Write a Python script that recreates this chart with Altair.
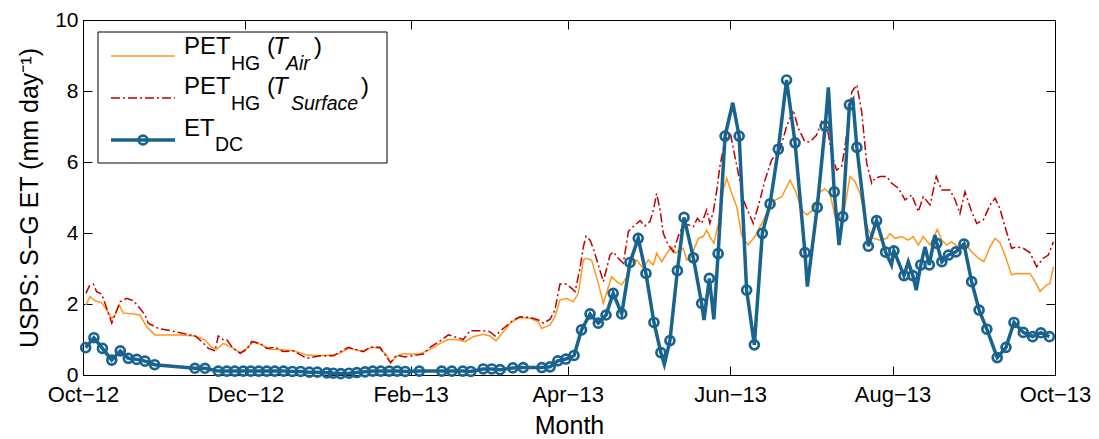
import altair as alt
import pandas as pd

START = "2012-10-01"

# ---- PET_HG (T_Air): day offset from 1 Oct 2012, value (mm/day)
air_days = [1.1, 2.6, 4.5, 7.0, 8.9, 10.8, 12.0, 13.6, 15.1, 18.9, 21.4, 23.9, 27.0, 31.4, 36.4,
            42.1, 45.8, 48.3, 50.2, 52.7, 55.8, 59.0, 61.5, 64.0, 67.1, 70.2, 74.0, 79.0, 84.0,
            89.0, 94.0, 96.5, 99.6, 102.1, 105.0, 108.4, 111.5, 114.0, 115.5, 117.2, 119.7,
            124.0, 126.5, 130.3, 134.1, 137.2, 140.3, 143.4, 146.6, 150.3, 152.8, 155.1, 157.8,
            161.0, 164.1, 167.9, 171.0, 172.2, 175.4, 177.2, 179.1, 181.6, 184.1, 186.0, 187.9,
            189.1, 191.0, 193.5, 195.4, 198.5, 200.4, 202.3, 204.2, 205.4, 207.9, 210.4, 212.3,
            214.2, 215.4, 217.3, 219.2, 221.1, 222.3, 224.2, 225.4, 226.7, 228.6, 229.8, 231.1,
            232.9, 234.2, 235.4, 236.9, 238.6, 240.4, 241.7, 243.6, 245.5, 247.3, 249.8, 252.3,
            254.9, 257.3, 259.9, 262.4, 265.5, 267.4, 269.9, 271.8, 274.2, 276.8, 278.6, 280.5,
            282.4, 284.2, 286.1, 288.0, 289.9, 291.8, 294.3, 296.8, 299.3, 301.8, 303.0, 304.9,
            307.4, 309.9, 311.8, 313.7, 315.5, 318.1, 320.8, 322.5, 324.3, 326.2, 328.7, 331.2,
            333.7, 336.2, 338.3, 340.6, 342.5, 344.3, 346.2, 348.7, 350.6, 353.1, 355.6, 357.5,
            359.4, 361.9, 363.1, 364.4]
air_vals = [1.97, 2.21, 2.09, 2.04, 1.83, 1.60, 1.69, 1.97, 1.75, 1.72, 1.69, 1.36, 1.13, 1.13, 1.13,
            1.10, 0.99, 0.78, 0.72, 0.89, 0.78, 0.63, 0.75, 0.94, 0.85, 0.72, 0.72, 0.68, 0.56,
            0.54, 0.56, 0.61, 0.75, 0.72, 0.66, 0.78, 0.75, 0.56, 0.33, 0.50, 0.59,
            0.59, 0.59, 0.72, 0.89, 1.00, 1.00, 0.94, 1.08, 1.15, 1.10, 0.96, 1.22,
            1.50, 1.62, 1.60, 1.50, 1.31, 1.41, 1.64, 2.11, 2.16, 2.06, 2.30, 3.24,
            3.29, 3.24, 2.58, 2.02, 2.77, 2.63, 2.54, 2.77, 3.15, 3.24, 3.00, 3.24,
            3.10, 3.43, 3.19, 3.43, 3.61, 3.43, 3.52, 3.57, 3.24, 3.33, 3.61, 3.85,
            3.90, 4.08, 3.90, 3.71, 4.27, 5.21, 5.54, 5.11, 4.74, 3.94, 3.66, 3.90,
            4.27, 4.65, 4.93, 5.02, 5.49, 5.21, 4.65, 4.51, 4.65, 5.16, 5.25, 5.11,
            4.46, 4.37, 4.74, 5.59, 5.45, 5.11, 4.18, 3.85, 3.80, 3.85, 3.99, 3.85,
            3.90, 3.80, 3.90, 3.66, 3.90, 3.66, 4.10, 3.80, 3.66, 3.75, 3.61, 3.71,
            3.47, 3.29, 3.19, 3.61, 3.85, 3.73, 3.38, 2.82, 2.86, 2.85, 2.86, 2.63,
            2.35, 2.54, 2.58, 3.05]

# ---- PET_HG (T_Surface)
sfc_days = [1.1, 2.4, 3.9, 5.1, 7.0, 8.9, 10.8, 12.0, 13.9, 16.4, 18.9, 21.4, 23.3, 24.5, 28.3,
            32.7, 36.4, 42.1, 44.6, 47.1, 49.6, 50.8, 52.7, 54.0, 56.4, 59.0, 61.5, 63.3, 66.5,
            69.0, 72.1, 75.2, 79.0, 84.0, 89.0, 94.0, 99.6, 102.1, 105.3, 107.8, 111.5, 114.0,
            115.5, 117.8, 120.9, 125.3, 127.8, 130.3, 134.1, 137.2, 140.3, 142.8, 145.3, 150.3,
            152.8, 154.7, 157.8, 161.6, 164.1, 167.9, 171.0, 172.9, 175.4, 177.2, 179.1, 181.6,
            183.5, 184.8, 186.6, 187.9, 188.9, 190.4, 191.6, 193.5, 195.4, 197.9, 199.1, 201.0,
            202.9, 204.8, 206.6, 209.2, 211.0, 212.9, 214.2, 215.4, 216.7, 217.9, 219.8, 221.7,
            223.5, 225.4, 227.3, 229.2, 230.7, 232.3, 234.2, 235.4, 236.7, 238.0, 239.2, 241.1,
            243.0, 244.8, 246.6, 248.0, 249.8, 251.7, 254.2, 256.1, 258.6, 261.7, 264.2, 266.7,
            268.6, 271.1, 273.0, 275.5, 277.4, 279.3, 281.1, 283.0, 284.9, 286.5, 288.7, 290.6,
            292.4, 294.3, 296.2, 297.4, 299.3, 301.8, 303.7, 306.2, 308.7, 311.2, 313.7, 315.5,
            318.1, 320.4, 322.5, 325.6, 327.5, 329.3, 331.2, 333.7, 335.6, 338.1, 340.6, 342.5,
            344.3, 346.2, 348.7, 350.6, 353.1, 355.6, 358.1, 360.6, 362.5, 364.4]
sfc_vals = [2.30, 2.51, 2.56, 2.35, 2.28, 1.88, 1.46, 1.69, 2.06, 2.16, 2.09, 1.88, 1.69, 1.46, 1.31,
            1.25, 1.19, 1.10, 0.94, 0.75, 0.68, 1.10, 0.99, 0.99, 0.75, 0.61, 0.72, 0.94, 0.89,
            0.75, 0.78, 0.66, 0.68, 0.47, 0.54, 0.54, 0.78, 0.72, 0.66, 0.78, 0.78, 0.51,
            0.35, 0.56, 0.51, 0.56, 0.59, 0.78, 0.96, 1.13, 1.06, 1.00, 1.25, 1.25,
            1.22, 1.10, 1.31, 1.55, 1.64, 1.62, 1.55, 1.46, 1.57, 1.83, 2.56, 2.56,
            2.44, 2.35, 3.00, 3.61, 3.91, 3.80, 3.57, 3.10, 2.63, 3.38, 3.47, 3.29,
            3.15, 4.04, 4.18, 4.35, 4.20, 4.32, 4.65, 5.11, 4.65, 3.99, 3.66, 3.47,
            3.90, 4.23, 4.23, 4.18, 4.41, 4.27, 4.65, 4.27, 4.60, 5.21, 5.90, 6.60,
            6.85, 6.15, 5.50, 4.93, 4.60, 4.27, 4.93, 5.49, 6.06, 6.34, 7.00, 7.46,
            6.95, 6.57, 6.57, 6.76, 7.14, 7.04, 6.24, 5.77, 5.87, 6.62, 7.98, 8.17,
            7.42, 5.96, 5.40, 5.54, 5.59, 5.59, 5.40, 5.26, 4.93, 5.07, 4.60, 5.02,
            4.79, 5.59, 5.21, 5.21, 4.93, 4.55, 5.16, 4.60, 4.27, 4.37, 4.79, 4.98,
            4.69, 4.18, 3.57, 3.61, 3.57, 3.45, 3.05, 3.29, 3.38, 3.75]

# ---- ET_DC (marked = 1 where a circle marker is drawn)
et_days = [1.0, 4.1, 7.3, 10.8, 14.0, 17.0, 20.2, 23.3, 26.9, 42.0, 45.8, 50.8, 54.0, 57.0, 60.2,
           63.0, 66.0, 69.0, 72.0, 75.3, 78.6, 81.7, 85.0, 88.0, 91.6, 94.0, 96.8, 99.9, 102.8,
           105.9, 108.8, 111.8, 115.0, 118.0, 121.0, 126.3, 134.7, 138.5, 142.6, 145.6, 150.3,
           153.5, 156.6, 161.4, 165.3, 172.3, 175.4, 178.3, 181.3, 184.4, 187.2, 190.4, 193.5,
           196.4, 199.1, 202.3, 205.4, 208.5, 211.4, 214.4, 217.0, 218.3, 220.4, 223.2, 225.7,
           229.2, 232.3, 233.2, 235.2, 236.9, 238.5, 241.1, 244.0, 246.4, 249.2, 252.1, 255.1,
           258.0, 261.1, 264.2, 267.4, 271.1, 272.0, 275.7, 278.7, 279.9, 282.1, 283.9, 285.3,
           287.8, 289.1, 290.6, 294.9, 298.0, 301.4, 303.6, 304.5, 308.3, 309.9, 311.6, 312.9,
           314.6, 316.2, 317.8, 319.9, 320.6, 322.5, 325.0, 327.8, 330.8, 333.7, 336.5, 339.4,
           343.3, 346.6, 349.6, 353.1, 356.6, 359.7, 362.9]
et_vals = [0.77, 1.05, 0.75, 0.42, 0.68, 0.47, 0.44, 0.39, 0.29, 0.19, 0.19, 0.11, 0.11, 0.11, 0.11,
           0.11, 0.11, 0.11, 0.11, 0.11, 0.10, 0.10, 0.08, 0.08, 0.06, 0.05, 0.04, 0.05, 0.07,
           0.09, 0.11, 0.11, 0.11, 0.11, 0.10, 0.11, 0.11, 0.11, 0.11, 0.10, 0.17,
           0.17, 0.15, 0.20, 0.21, 0.21, 0.23, 0.40, 0.45, 0.55, 1.27, 1.72, 1.46,
           1.69, 2.30, 1.72, 3.17, 3.85, 2.86, 1.48, 0.63, 0.30, 0.97, 2.94, 4.44,
           3.30, 2.02, 1.55, 2.72, 1.57, 3.42, 6.73, 7.67, 6.73, 2.39, 0.85, 3.99,
           4.82, 6.36, 8.31, 6.54, 3.45, 2.49, 4.72, 7.01, 8.10, 5.16, 3.66, 4.46,
           7.61, 7.75, 6.41, 3.63, 4.35, 3.46, 3.10, 3.50, 2.80, 3.19, 2.80, 2.39,
           3.10, 3.61, 3.10, 3.94, 3.71, 3.19, 3.38, 3.47, 3.69, 2.63, 1.83, 1.29,
           0.49, 0.78, 1.48, 1.20, 1.08, 1.19, 1.08]
et_marked = [1, 1, 1, 1, 1, 1, 1, 1, 1, 1, 1, 1, 1, 1, 1,
             1, 1, 1, 1, 1, 1, 1, 1, 1, 1, 1, 1, 1, 1,
             1, 1, 1, 1, 1, 1, 1, 1, 1, 1, 1, 1,
             1, 1, 1, 1, 1, 1, 1, 1, 1, 1, 1, 1,
             1, 1, 1, 1, 1, 1, 1, 1, 0, 1, 1, 1,
             1, 1, 0, 1, 0, 1, 1, 0, 1, 1, 1, 1,
             1, 1, 1, 1, 1, 0, 1, 1, 0, 1, 0, 1,
             1, 0, 1, 1, 1, 1, 0, 1, 1, 0, 1, 0,
             1, 0, 1, 0, 1, 1, 1, 1, 1, 1, 1, 1,
             1, 1, 1, 1, 1, 1, 1]

# axis ticks
x_ticks = [(2012, 10), (2012, 12), (2013, 2), (2013, 4), (2013, 6), (2013, 8), (2013, 10)]
y_ticks = [0, 2, 4, 6, 8, 10]

ORANGE = "#FF9620"
RED = "#C00000"
BLUE = "#19638F"
FONT = "Liberation Sans"


def frame(days, vals):
    d = pd.DataFrame({"day": days, "value": vals})
    d["date"] = pd.Timestamp(START) + pd.to_timedelta(d["day"], unit="D")
    return d[["date", "value"]]


air_df = frame(air_days, air_vals)
sfc_df = frame(sfc_days, sfc_vals)
et_df = frame(et_days, et_vals)
et_df["marked"] = et_marked
et_pts_df = et_df[et_df["marked"] == 1]

x_scale = alt.Scale(domain=[alt.DateTime(year=2012, month=10, date=1),
                            alt.DateTime(year=2013, month=10, date=1)], nice=False)
y_scale = alt.Scale(domain=[0, 10], nice=False, zero=False)
tick_vals = [alt.DateTime(year=y, month=m, date=1) for y, m in x_ticks]

TICK = 9
x_axis = alt.Axis(values=tick_vals,
                  labelExpr="timeFormat(datum.value, '%b') + '\u2212' + timeFormat(datum.value, '%y')",
                  labelFont=FONT, labelFontSize=22, labelColor="black", labelPadding=9,
                  tickColor="black", tickSize=TICK, offset=-TICK, domain=False, grid=False,
                  title="Month", titleFont=FONT, titleFontSize=25, titleFontWeight="normal",
                  titleColor="black", titlePadding=8, labelFlush=False, labelOverlap=False)
y_axis = alt.Axis(values=y_ticks, labelFont=FONT, labelFontSize=21, labelColor="black",
                  labelPadding=5, tickColor="black", tickSize=TICK, offset=-TICK, domain=False,
                  grid=False, title="USPS: S\u2212G ET (mm day\u207b\u00b9)", titleFont=FONT,
                  titleFontSize=25, titleFontWeight="normal", titleColor="black",
                  titlePadding=12)
x_top = alt.Axis(values=tick_vals, orient="top", labels=False, tickColor="black",
                 tickSize=TICK, offset=-TICK, domain=False, grid=False, title=None)
y_right = alt.Axis(values=y_ticks, orient="right", labels=False, tickColor="black",
                   tickSize=TICK, offset=-TICK, domain=False, grid=False, title=None)

X = alt.X("date:T", scale=x_scale, axis=x_axis)
Y = alt.Y("value:Q", scale=y_scale, axis=y_axis)

MSIZE = 80
MSW = 2.7

air_line = alt.Chart(air_df).mark_line(color=ORANGE, strokeWidth=1.5).encode(x=X, y=Y)
sfc_line = alt.Chart(sfc_df).mark_line(color=RED, strokeWidth=1.5,
                                       strokeDash=[9, 3, 2, 3]).encode(x=X, y=Y)
et_line = alt.Chart(et_df).mark_line(color=BLUE, strokeWidth=3.5).encode(x=X, y=Y)
et_pts = alt.Chart(et_pts_df).mark_point(shape="circle", filled=False, size=MSIZE,
                                         strokeWidth=MSW, color=BLUE, opacity=1).encode(x=X, y=Y)
core = alt.layer(air_line, sfc_line, et_line, et_pts)

mirror = alt.Chart(air_df).mark_line(opacity=0).encode(
    x=alt.X("date:T", scale=x_scale, axis=x_top),
    y=alt.Y("value:Q", scale=y_scale, axis=y_right))

one = pd.DataFrame({"k": [0]})


def txt(s, x, y, size=24, italic=False):
    kw = dict(text=s, align="left", baseline="alphabetic", font=FONT, fontSize=size,
              color="black")
    if italic:
        kw["fontStyle"] = "italic"
    return alt.Chart(one).mark_text(**kw).encode(x=alt.value(x), y=alt.value(y))


SUB = 19.5
leg = [
    alt.Chart(one).mark_rect(fill="white", stroke="black", strokeWidth=1).encode(
        x=alt.value(15), x2=alt.value(304), y=alt.value(12), y2=alt.value(143)),
    alt.Chart(one).mark_rule(color=ORANGE, strokeWidth=1.5).encode(
        x=alt.value(28), x2=alt.value(92), y=alt.value(36)),
    alt.Chart(one).mark_rule(color=RED, strokeWidth=1.5, strokeDash=[9, 3, 2, 3]).encode(
        x=alt.value(28), x2=alt.value(92), y=alt.value(78)),
    alt.Chart(one).mark_rule(color=BLUE, strokeWidth=3.5).encode(
        x=alt.value(28), x2=alt.value(92), y=alt.value(120)),
    alt.Chart(one).mark_point(shape="circle", filled=False, size=MSIZE, strokeWidth=MSW,
                              color=BLUE, opacity=1).encode(x=alt.value(60), y=alt.value(120)),
    txt("PET", 101, 34), txt("HG", 148, 50, SUB), txt("(", 184, 34),
    txt("T", 190, 34, italic=True), txt("Air", 203, 50, SUB, italic=True), txt(")", 231, 34),
    txt("PET", 101, 74), txt("HG", 148, 90, SUB), txt("(", 184, 74),
    txt("T", 190, 74, italic=True), txt("Surface", 208, 90, SUB, italic=True),
    txt(")", 278, 74),
    txt("ET", 101, 116), txt("DC", 132, 131, SUB),
]

chart = alt.layer(core, mirror, *leg).resolve_axis(x="independent", y="independent").properties(
    width=972, height=355,
    autosize=alt.AutoSizeParams(type="none"),
    padding={"left": 83, "top": 20, "right": 44, "bottom": 64},
    background="white",
).configure_view(stroke="black", strokeWidth=1)

chart.save("out.html", embed_options={"renderer": "svg", "actions": False})
